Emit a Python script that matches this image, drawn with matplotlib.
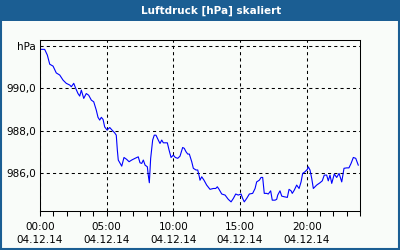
import matplotlib
matplotlib.use("Agg")
import matplotlib.pyplot as plt
from matplotlib.patches import Rectangle

# Data (hours since 00:00 on 04.12.14, pressure in hPa)
hours = [0.10, 0.35, 0.55, 0.73, 0.98, 1.22, 1.48, 1.73, 1.97, 2.23, 2.35, 2.53, 2.68, 2.85, 2.98,
         3.10, 3.28, 3.47, 3.65, 3.85, 4.03, 4.22, 4.35, 4.48, 4.60, 4.73, 4.85, 5.03, 5.23, 5.40,
         5.60, 5.72, 5.80, 5.87, 6.13, 6.30, 6.50, 6.68, 6.88, 7.13, 7.37, 7.50, 7.63, 7.75, 7.88,
         8.05, 8.12, 8.20, 8.30, 8.45, 8.57, 8.70, 8.87, 9.00, 9.13, 9.25, 9.55, 9.68, 9.83, 10.00,
         10.15, 10.33, 10.50, 10.70, 10.82, 10.95, 11.08, 11.20, 11.38, 11.50, 11.70, 11.83, 11.95,
         12.00, 12.13, 12.30, 12.50, 12.75, 13.00, 13.18, 13.30, 13.43, 13.63, 13.88, 14.12, 14.33,
         14.50, 14.68, 14.87, 15.08, 15.20, 15.32, 15.50, 15.70, 15.95, 16.13, 16.25, 16.45, 16.58,
         16.70, 16.82, 17.00, 17.12, 17.30, 17.42, 17.63, 17.75, 17.83, 18.00, 18.13, 18.32, 18.55,
         18.68, 18.83, 18.92, 19.07, 19.25, 19.43, 19.58, 19.70, 19.88, 20.05, 20.12, 20.25, 20.38,
         20.50, 20.75, 21.00, 21.17, 21.32, 21.50, 21.62, 21.75, 21.88, 22.07, 22.25, 22.43, 22.63,
         22.80, 23.00, 23.17, 23.33, 23.50, 23.68, 23.87]
pressure = [991.84, 991.84, 991.57, 991.14, 991.05, 990.73, 990.63, 990.39, 990.24, 990.16, 990.08,
            990.24, 990.00, 989.76, 989.64, 989.92, 989.53, 989.76, 989.68, 989.45, 989.37, 988.98,
            988.64, 988.51, 988.64, 988.54, 988.19, 988.04, 988.16, 988.04, 987.91, 987.80, 987.10,
            986.63, 986.34, 986.75, 986.66, 986.55, 986.63, 986.71, 986.78, 986.50, 986.47, 986.63,
            986.39, 986.31, 985.92, 985.56, 986.71, 987.57, 987.80, 987.80, 987.57, 987.41, 987.57,
            987.44, 987.44, 987.10, 986.75, 986.86, 986.75, 986.71, 986.81, 987.22, 987.18, 987.02,
            986.91, 986.91, 986.55, 986.24, 986.16, 986.16, 985.84, 985.68, 985.84, 985.68, 985.45,
            985.25, 985.29, 985.29, 985.37, 985.25, 985.03, 984.98, 984.78, 984.66, 984.82, 985.03,
            984.98, 985.03, 984.82, 984.66, 984.82, 985.03, 985.06, 985.29, 985.60, 985.68, 985.81,
            985.81, 985.06, 985.06, 985.03, 985.18, 984.74, 984.74, 984.78, 984.98, 985.18, 984.93,
            984.90, 984.87, 985.25, 985.18, 985.06, 985.21, 985.45, 985.29, 985.60, 986.00, 986.08,
            986.19, 986.31, 986.16, 985.76, 985.29, 985.45, 985.56, 985.65, 985.92, 985.92, 985.65,
            985.92, 985.53, 985.97, 985.81, 986.00, 985.60, 986.24, 986.26, 986.26, 986.47, 986.75,
            986.71, 986.39]

title = "Luftdruck [hPa] skaliert"
y_ticks = [986, 988, 990, 992]
y_labels = ["986,0", "988,0", "990,0", "hPa"]
x_ticks = [0, 5, 10, 15, 20]
x_labels = ["00:00\n04.12.14", "05:00\n04.12.14", "10:00\n04.12.14",
            "15:00\n04.12.14", "20:00\n04.12.14"]

BG = "#f9fcf9"
BLUE = "#1b5e93"

fig = plt.figure(figsize=(4, 2.5), dpi=100, facecolor=BG)
ax = fig.add_axes([0.1, 0.156, 0.8, 0.684])
ax.set_facecolor(BG)

ax.plot(hours, pressure, color="#0000ff", lw=0.8)

ax.set_xlim(0, 24)
ax.set_ylim(984.23, 992.28)
ax.set_xticks(x_ticks)
ax.set_xticklabels(x_labels, fontsize=7.5, linespacing=1.4)
ax.set_xticks(range(0, 25), minor=True)
ax.set_yticks(y_ticks)
ax.set_yticklabels(y_labels, fontsize=7.5)

ax.tick_params(axis="x", which="both", direction="out", length=3.5, width=0.75,
               color="black", pad=4.5)
ax.tick_params(axis="y", length=0, pad=3)
ax.grid(True, which="major", color="black", lw=0.75, linestyle=(0, (3, 3)))
for s in ax.spines.values():
    s.set_color("black")
    s.set_linewidth(0.75)

# title bar and frame
fig.patches.append(Rectangle((0, 1 - 20.5 / 250), 1, 20.5 / 250, transform=fig.transFigure,
                             facecolor=BLUE, edgecolor="none", zorder=0))
fig.patches.append(Rectangle((0.0025, 0.004), 0.995, 0.99, transform=fig.transFigure,
                             facecolor="none", edgecolor=BLUE, lw=1.5, zorder=1))
fig.text(0.5275, 1 - 10.5 / 250, title, color="white", fontsize=7.5, fontweight="bold",
         ha="center", va="center")

fig.savefig("out.png", dpi=100, facecolor=BG)
